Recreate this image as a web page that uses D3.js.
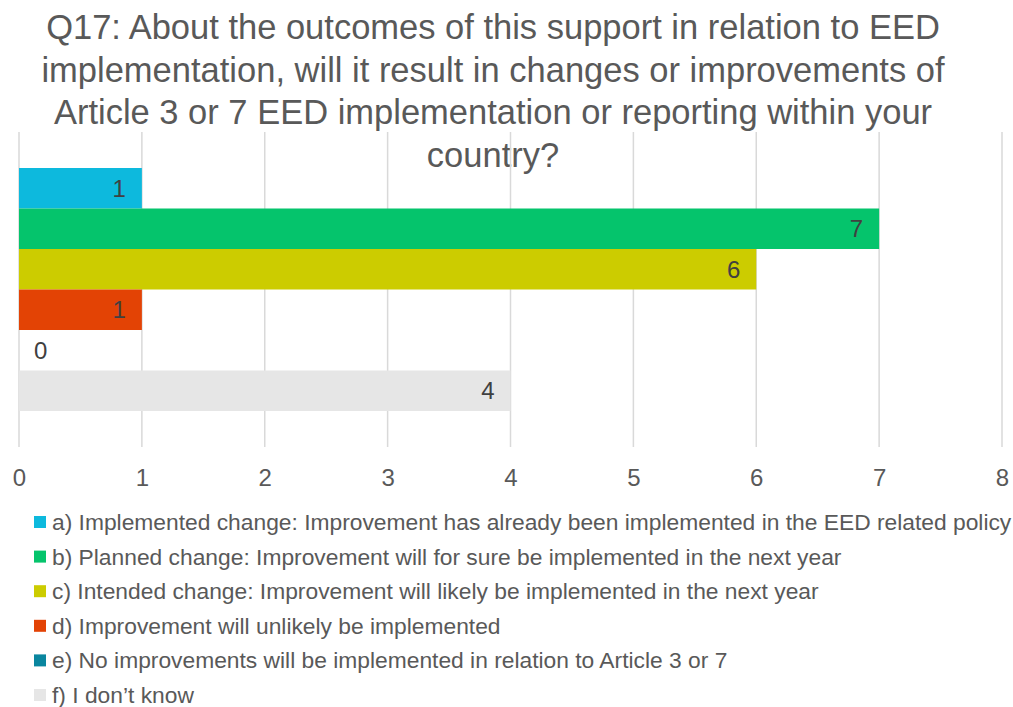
<!DOCTYPE html>
<html>
<head>
<meta charset="utf-8">
<script src="https://cdn.jsdelivr.net/npm/d3@7"></script>
<style>
  html, body { margin: 0; padding: 0; background: #fff; }
  svg { display: block; }
  text { font-family: "Liberation Sans", Arial, sans-serif; fill: #595959; }
</style>
</head>
<body>
<svg id="chart" width="1013" height="707"></svg>
<script>
const titleLines = [
  "Q17: About the outcomes of this support in relation to EED",
  "implementation, will it result in changes or improvements of",
  "Article 3 or 7 EED implementation or reporting within your",
  "country?"
];
const seriesNames = [
  "a) Implemented change: Improvement has already been implemented in the EED related policy",
  "b) Planned change: Improvement will for sure be implemented in the next year",
  "c) Intended change: Improvement will likely be implemented in the next year",
  "d) Improvement will unlikely be implemented",
  "e) No improvements will be implemented in relation to Article 3 or 7",
  "f) I don\u2019t know"
];
const seriesValues = [1, 7, 6, 1, 0, 4];
const seriesColors = ["#0DB9DD", "#05C46C", "#CCCC00", "#E34305", "#0A869F", "#E6E6E6"];
const xTicks = [0, 1, 2, 3, 4, 5, 6, 7, 8];

const svg = d3.select("#chart");
const plot = { left: 19, right: 1002, top: 132, bottom: 447 };

const x = d3.scaleLinear().domain([0, 8]).range([plot.left, plot.right]);
const y = d3.scaleBand().domain(seriesNames).range([168, 411]).padding(0);

// title
const title = svg.append("g");
titleLines.forEach((t, i) => {
  title.append("text")
    .attr("x", 493).attr("y", 39 + i * 42.5)
    .attr("text-anchor", "middle")
    .style("font-size", "34.5px")
    .text(t);
});

// gridlines
svg.append("g").selectAll("line").data(xTicks).join("line")
  .attr("x1", d => x(d)).attr("x2", d => x(d))
  .attr("y1", plot.top).attr("y2", plot.bottom)
  .attr("stroke", "#D9D9D9").attr("stroke-width", 1.5);

// bars
svg.append("g").selectAll("rect").data(seriesNames).join("rect")
  .attr("x", x(0))
  .attr("y", d => y(d))
  .attr("width", (d, i) => x(seriesValues[i]) - x(0))
  .attr("height", y.bandwidth())
  .attr("fill", (d, i) => seriesColors[i]);

// data labels
svg.append("g").selectAll("text").data(seriesNames).join("text")
  .attr("x", (d, i) => seriesValues[i] > 0 ? x(seriesValues[i]) - 16 : x(0) + 15)
  .attr("y", d => y(d) + y.bandwidth() / 2 + 8.5)
  .attr("text-anchor", (d, i) => seriesValues[i] > 0 ? "end" : "start")
  .style("font-size", "24px")
  .style("fill", "#404040")
  .text((d, i) => seriesValues[i]);

// x axis labels
const axis = d3.axisBottom(x).tickValues(xTicks).tickSize(0).tickPadding(0);
const ag = svg.append("g").attr("transform", `translate(0,${plot.bottom})`).call(axis);
ag.select(".domain").remove();
ag.selectAll("text")
  .attr("dy", null).attr("y", 39)
  .style("font-size", "24px")
  .style("font-family", "\"Liberation Sans\", Arial, sans-serif")
  .attr("fill", "#595959");

// legend
const leg = svg.append("g");
seriesNames.forEach((name, i) => {
  const yy = 530 + i * 34.6;
  leg.append("rect")
    .attr("x", 34).attr("y", yy - 14)
    .attr("width", 12).attr("height", 12)
    .attr("fill", seriesColors[i]);
  leg.append("text")
    .attr("x", 52).attr("y", yy)
    .style("font-size", "22.8px")
    .text(name);
});
</script>
</body>
</html>
